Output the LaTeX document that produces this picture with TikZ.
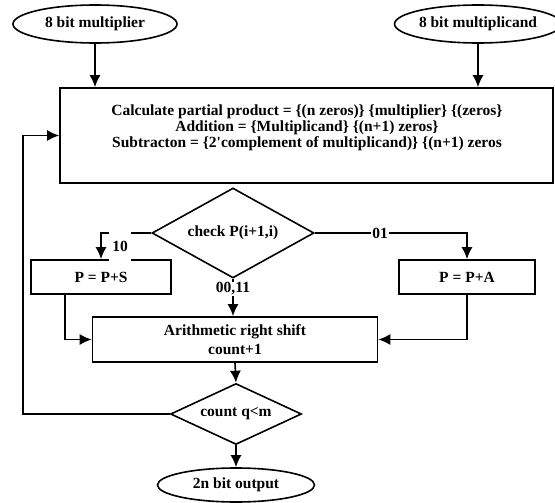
\documentclass[tikz,border=0pt]{standalone}
\usepackage{fontspec}
\setmainfont{Liberation Serif}
\usetikzlibrary{shapes.geometric}
\usetikzlibrary{arrows.meta}

\begin{document}
\begin{tikzpicture}[x=1pt,y=-1pt,line width=1.6pt,>={Latex[length=12pt,width=11pt]},
  font=\bfseries\fontsize{15.5}{16}\selectfont,
  term/.style={draw,ellipse,inner sep=0pt,minimum width=#1,minimum height=38pt},
  proc/.style={draw,rectangle,inner sep=0pt,align=center},
  test/.style={draw,diamond,inner sep=0pt,aspect=2},
  lbl/.style={fill=white,inner sep=1pt}]
\useasboundingbox (0,0) rectangle (555,503);

\node [term=164pt] (mplier) at (95,24) {8 bit multiplier};
\node [term=154pt] (mcand) at (478,24) {8 bit multiplicand};
\node [proc,minimum width=493pt,minimum height=95pt] (calc) at (306.5,135.5) {};
\node [align=center] (calctxt) at (307,128)
  {Calculate partial product = \{(n zeros)\} \{multiplier\} \{(zeros\}\\
   Addition = \{Multiplicand\} \{(n+1) zeros\}\\
   Subtracton = \{2\textquotesingle complement of multiplicand)\} \{(n+1) zeros};
\node [test,minimum width=162pt,minimum height=90pt] (chk) at (233,233) {check P(i+1,i)};
\node [proc,minimum width=140pt,minimum height=34pt] (psub) at (101,277) {P = P+S};
\node [proc,minimum width=136pt,minimum height=34pt] (padd) at (467,277) {P = P+A};
\node [proc,minimum width=285pt,minimum height=45pt] (shift) at (235,339.5)
  {Arithmetic right shift\\[3pt]count+1};
\node [test,minimum width=131pt,minimum height=61pt] (cnt) at (236,414) {count q<m};
\node [term=157pt,minimum height=34pt] (out) at (236,485) {2n bit output};
\coordinate (loop) at (23,135.5);

\draw [->] (mplier.south) -- (mplier.south |- calc.north);
\draw [->] (mcand.south) -- (mcand.south |- calc.north);
\draw [->] (chk.west) -| (psub.north);
\draw [->] (chk.east) -| (padd.north);
\draw [->] (chk.south) -- (chk.south |- shift.north);
\draw [->] ([xshift=-36pt]psub.south) |- (shift.west);
\draw [->] (padd.south) |- (shift.east);
\draw [->] (shift.south) -- (cnt.north);
\draw [->] (cnt.west) -| (loop) -- (calc.west);
\draw [->] (cnt.south) -- (out.north);

\node [lbl,minimum width=22pt,minimum height=31pt] (l10) at (120,246) {10};
\node [lbl] (l01) at (380,233) {01};
\node [lbl] (l0011) at (233,289) {00,11};

\end{tikzpicture}
\end{document}
